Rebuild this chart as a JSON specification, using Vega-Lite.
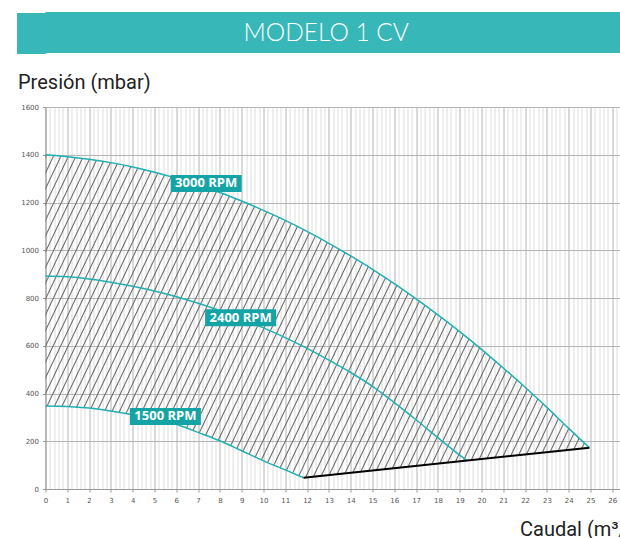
{
  "$schema": "https://vega.github.io/schema/vega-lite/v6.json",
  "padding": {"left": -4.5, "top": 12, "right": 0, "bottom": 0},
  "background": "white",
  "spacing": 18,
  "config": {"view": {"stroke": null}, "font": "Roboto"},
  "datasets": {
    "titlebar": [{"t": "MODELO 1 CV"}],
    "area": [
      {"q": 0, "top": 1400, "bottom": 348},
      {"q": 1, "top": 1392, "bottom": 346},
      {"q": 2, "top": 1381, "bottom": 339},
      {"q": 3, "top": 1367, "bottom": 327},
      {"q": 4, "top": 1349, "bottom": 311},
      {"q": 5, "top": 1327, "bottom": 293},
      {"q": 6, "top": 1302, "bottom": 271},
      {"q": 7, "top": 1274, "bottom": 237},
      {"q": 8, "top": 1242, "bottom": 202},
      {"q": 9, "top": 1206, "bottom": 160},
      {"q": 10, "top": 1167, "bottom": 118},
      {"q": 11, "top": 1125, "bottom": 80},
      {"q": 11.84, "top": 1086, "bottom": 47},
      {"q": 12, "top": 1079, "bottom": 48.5},
      {"q": 13, "top": 1029, "bottom": 58},
      {"q": 14, "top": 976, "bottom": 68},
      {"q": 15, "top": 920, "bottom": 77},
      {"q": 16, "top": 860, "bottom": 87},
      {"q": 17, "top": 796, "bottom": 97},
      {"q": 18, "top": 729, "bottom": 106},
      {"q": 19, "top": 659, "bottom": 116},
      {"q": 20, "top": 585, "bottom": 125},
      {"q": 21, "top": 507, "bottom": 135},
      {"q": 22, "top": 426, "bottom": 145},
      {"q": 23, "top": 342, "bottom": 154},
      {"q": 24, "top": 254, "bottom": 164},
      {"q": 24.95, "top": 173, "bottom": 173}
    ],
    "curves": [
      {"rpm": "3000", "q": 0, "p": 1400}, {"rpm": "3000", "q": 1, "p": 1392}, {"rpm": "3000", "q": 2, "p": 1381},
      {"rpm": "3000", "q": 3, "p": 1367}, {"rpm": "3000", "q": 4, "p": 1349}, {"rpm": "3000", "q": 5, "p": 1327},
      {"rpm": "3000", "q": 6, "p": 1302}, {"rpm": "3000", "q": 7, "p": 1274}, {"rpm": "3000", "q": 8, "p": 1242},
      {"rpm": "3000", "q": 9, "p": 1206}, {"rpm": "3000", "q": 10, "p": 1167}, {"rpm": "3000", "q": 11, "p": 1125},
      {"rpm": "3000", "q": 12, "p": 1079}, {"rpm": "3000", "q": 13, "p": 1029}, {"rpm": "3000", "q": 14, "p": 976},
      {"rpm": "3000", "q": 15, "p": 920}, {"rpm": "3000", "q": 16, "p": 860}, {"rpm": "3000", "q": 17, "p": 796},
      {"rpm": "3000", "q": 18, "p": 729}, {"rpm": "3000", "q": 19, "p": 659}, {"rpm": "3000", "q": 20, "p": 585},
      {"rpm": "3000", "q": 21, "p": 507}, {"rpm": "3000", "q": 22, "p": 426}, {"rpm": "3000", "q": 23, "p": 342},
      {"rpm": "3000", "q": 24, "p": 254}, {"rpm": "3000", "q": 24.95, "p": 173},
      {"rpm": "2400", "q": 0, "p": 892}, {"rpm": "2400", "q": 1, "p": 889}, {"rpm": "2400", "q": 2, "p": 880},
      {"rpm": "2400", "q": 3, "p": 866}, {"rpm": "2400", "q": 4, "p": 849}, {"rpm": "2400", "q": 5, "p": 829},
      {"rpm": "2400", "q": 6, "p": 805}, {"rpm": "2400", "q": 7, "p": 778}, {"rpm": "2400", "q": 8, "p": 747},
      {"rpm": "2400", "q": 9, "p": 713}, {"rpm": "2400", "q": 10, "p": 675}, {"rpm": "2400", "q": 11, "p": 634},
      {"rpm": "2400", "q": 12, "p": 589}, {"rpm": "2400", "q": 13, "p": 540}, {"rpm": "2400", "q": 14, "p": 488},
      {"rpm": "2400", "q": 15, "p": 430}, {"rpm": "2400", "q": 16, "p": 362}, {"rpm": "2400", "q": 17, "p": 290},
      {"rpm": "2400", "q": 18, "p": 215}, {"rpm": "2400", "q": 19, "p": 142}, {"rpm": "2400", "q": 19.34, "p": 119},
      {"rpm": "1500", "q": 0, "p": 348}, {"rpm": "1500", "q": 1, "p": 346}, {"rpm": "1500", "q": 2, "p": 339},
      {"rpm": "1500", "q": 3, "p": 327}, {"rpm": "1500", "q": 4, "p": 311}, {"rpm": "1500", "q": 5, "p": 293},
      {"rpm": "1500", "q": 6, "p": 271}, {"rpm": "1500", "q": 7, "p": 237}, {"rpm": "1500", "q": 8, "p": 202},
      {"rpm": "1500", "q": 9, "p": 160}, {"rpm": "1500", "q": 10, "p": 118}, {"rpm": "1500", "q": 11, "p": 80},
      {"rpm": "1500", "q": 11.84, "p": 47}
    ],
    "edge": [{"q": 11.84, "p": 47}, {"q": 24.95, "p": 173}],
    "labels": [
      {"label": "3000 RPM", "q": 7.37, "p": 1280},
      {"label": "2400 RPM", "q": 8.95, "p": 717},
      {"label": "1500 RPM", "q": 5.5, "p": 304}
    ]
  },
  "vconcat": [
    {
      "width": 575.5,
      "height": 41,
      "view": {"fill": "#37b7b8", "stroke": null},
      "data": {"name": "titlebar"},
      "mark": {"type": "text", "font": "Lato", "fontWeight": 300, "fontSize": 24.5, "color": "white", "align": "center", "baseline": "middle", "dx": -7, "dy": 1},
      "encoding": {
        "text": {"field": "t", "type": "nominal"},
        "y": {
          "field": "t", "type": "nominal",
          "axis": {"title": null, "labels": false, "domain": false, "grid": false, "ticks": true, "tickSize": 29, "tickWidth": 41, "tickColor": "#37b7b8", "tickCap": "butt", "tickOpacity": 1}
        }
      }
    },
    {
      "width": 575.5,
      "height": 382,
      "layer": [
        {
          "data": {"name": "area"},
          "mark": {
            "type": "area",
            "interpolate": "linear",
            "fill": {
              "gradient": "linear", "x1": 0, "y1": 0, "x2": 1.2767, "y2": 0.3607,
              "stops": [
                {"offset":0,"color":"rgba(102,102,102,0)"},{"offset":0.0015,"color":"#666666"},{"offset":0.003,"color":"rgba(102,102,102,0)"},
                {"offset":0.01,"color":"rgba(102,102,102,0)"},{"offset":0.0115,"color":"#666666"},{"offset":0.013,"color":"rgba(102,102,102,0)"},
                {"offset":0.02,"color":"rgba(102,102,102,0)"},{"offset":0.0215,"color":"#666666"},{"offset":0.023,"color":"rgba(102,102,102,0)"},
                {"offset":0.03,"color":"rgba(102,102,102,0)"},{"offset":0.0315,"color":"#666666"},{"offset":0.033,"color":"rgba(102,102,102,0)"},
                {"offset":0.04,"color":"rgba(102,102,102,0)"},{"offset":0.0415,"color":"#666666"},{"offset":0.043,"color":"rgba(102,102,102,0)"},
                {"offset":0.05,"color":"rgba(102,102,102,0)"},{"offset":0.0515,"color":"#666666"},{"offset":0.053,"color":"rgba(102,102,102,0)"},
                {"offset":0.06,"color":"rgba(102,102,102,0)"},{"offset":0.0615,"color":"#666666"},{"offset":0.063,"color":"rgba(102,102,102,0)"},
                {"offset":0.07,"color":"rgba(102,102,102,0)"},{"offset":0.0715,"color":"#666666"},{"offset":0.073,"color":"rgba(102,102,102,0)"},
                {"offset":0.08,"color":"rgba(102,102,102,0)"},{"offset":0.0815,"color":"#666666"},{"offset":0.083,"color":"rgba(102,102,102,0)"},
                {"offset":0.09,"color":"rgba(102,102,102,0)"},{"offset":0.0915,"color":"#666666"},{"offset":0.093,"color":"rgba(102,102,102,0)"},
                {"offset":0.10,"color":"rgba(102,102,102,0)"},{"offset":0.1015,"color":"#666666"},{"offset":0.103,"color":"rgba(102,102,102,0)"},
                {"offset":0.11,"color":"rgba(102,102,102,0)"},{"offset":0.1115,"color":"#666666"},{"offset":0.113,"color":"rgba(102,102,102,0)"},
                {"offset":0.12,"color":"rgba(102,102,102,0)"},{"offset":0.1215,"color":"#666666"},{"offset":0.123,"color":"rgba(102,102,102,0)"},
                {"offset":0.13,"color":"rgba(102,102,102,0)"},{"offset":0.1315,"color":"#666666"},{"offset":0.133,"color":"rgba(102,102,102,0)"},
                {"offset":0.14,"color":"rgba(102,102,102,0)"},{"offset":0.1415,"color":"#666666"},{"offset":0.143,"color":"rgba(102,102,102,0)"},
                {"offset":0.15,"color":"rgba(102,102,102,0)"},{"offset":0.1515,"color":"#666666"},{"offset":0.153,"color":"rgba(102,102,102,0)"},
                {"offset":0.16,"color":"rgba(102,102,102,0)"},{"offset":0.1615,"color":"#666666"},{"offset":0.163,"color":"rgba(102,102,102,0)"},
                {"offset":0.17,"color":"rgba(102,102,102,0)"},{"offset":0.1715,"color":"#666666"},{"offset":0.173,"color":"rgba(102,102,102,0)"},
                {"offset":0.18,"color":"rgba(102,102,102,0)"},{"offset":0.1815,"color":"#666666"},{"offset":0.183,"color":"rgba(102,102,102,0)"},
                {"offset":0.19,"color":"rgba(102,102,102,0)"},{"offset":0.1915,"color":"#666666"},{"offset":0.193,"color":"rgba(102,102,102,0)"},
                {"offset":0.20,"color":"rgba(102,102,102,0)"},{"offset":0.2015,"color":"#666666"},{"offset":0.203,"color":"rgba(102,102,102,0)"},
                {"offset":0.21,"color":"rgba(102,102,102,0)"},{"offset":0.2115,"color":"#666666"},{"offset":0.213,"color":"rgba(102,102,102,0)"},
                {"offset":0.22,"color":"rgba(102,102,102,0)"},{"offset":0.2215,"color":"#666666"},{"offset":0.223,"color":"rgba(102,102,102,0)"},
                {"offset":0.23,"color":"rgba(102,102,102,0)"},{"offset":0.2315,"color":"#666666"},{"offset":0.233,"color":"rgba(102,102,102,0)"},
                {"offset":0.24,"color":"rgba(102,102,102,0)"},{"offset":0.2415,"color":"#666666"},{"offset":0.243,"color":"rgba(102,102,102,0)"},
                {"offset":0.25,"color":"rgba(102,102,102,0)"},{"offset":0.2515,"color":"#666666"},{"offset":0.253,"color":"rgba(102,102,102,0)"},
                {"offset":0.26,"color":"rgba(102,102,102,0)"},{"offset":0.2615,"color":"#666666"},{"offset":0.263,"color":"rgba(102,102,102,0)"},
                {"offset":0.27,"color":"rgba(102,102,102,0)"},{"offset":0.2715,"color":"#666666"},{"offset":0.273,"color":"rgba(102,102,102,0)"},
                {"offset":0.28,"color":"rgba(102,102,102,0)"},{"offset":0.2815,"color":"#666666"},{"offset":0.283,"color":"rgba(102,102,102,0)"},
                {"offset":0.29,"color":"rgba(102,102,102,0)"},{"offset":0.2915,"color":"#666666"},{"offset":0.293,"color":"rgba(102,102,102,0)"},
                {"offset":0.30,"color":"rgba(102,102,102,0)"},{"offset":0.3015,"color":"#666666"},{"offset":0.303,"color":"rgba(102,102,102,0)"},
                {"offset":0.31,"color":"rgba(102,102,102,0)"},{"offset":0.3115,"color":"#666666"},{"offset":0.313,"color":"rgba(102,102,102,0)"},
                {"offset":0.32,"color":"rgba(102,102,102,0)"},{"offset":0.3215,"color":"#666666"},{"offset":0.323,"color":"rgba(102,102,102,0)"},
                {"offset":0.33,"color":"rgba(102,102,102,0)"},{"offset":0.3315,"color":"#666666"},{"offset":0.333,"color":"rgba(102,102,102,0)"},
                {"offset":0.34,"color":"rgba(102,102,102,0)"},{"offset":0.3415,"color":"#666666"},{"offset":0.343,"color":"rgba(102,102,102,0)"},
                {"offset":0.35,"color":"rgba(102,102,102,0)"},{"offset":0.3515,"color":"#666666"},{"offset":0.353,"color":"rgba(102,102,102,0)"},
                {"offset":0.36,"color":"rgba(102,102,102,0)"},{"offset":0.3615,"color":"#666666"},{"offset":0.363,"color":"rgba(102,102,102,0)"},
                {"offset":0.37,"color":"rgba(102,102,102,0)"},{"offset":0.3715,"color":"#666666"},{"offset":0.373,"color":"rgba(102,102,102,0)"},
                {"offset":0.38,"color":"rgba(102,102,102,0)"},{"offset":0.3815,"color":"#666666"},{"offset":0.383,"color":"rgba(102,102,102,0)"},
                {"offset":0.39,"color":"rgba(102,102,102,0)"},{"offset":0.3915,"color":"#666666"},{"offset":0.393,"color":"rgba(102,102,102,0)"},
                {"offset":0.40,"color":"rgba(102,102,102,0)"},{"offset":0.4015,"color":"#666666"},{"offset":0.403,"color":"rgba(102,102,102,0)"},
                {"offset":0.41,"color":"rgba(102,102,102,0)"},{"offset":0.4115,"color":"#666666"},{"offset":0.413,"color":"rgba(102,102,102,0)"},
                {"offset":0.42,"color":"rgba(102,102,102,0)"},{"offset":0.4215,"color":"#666666"},{"offset":0.423,"color":"rgba(102,102,102,0)"},
                {"offset":0.43,"color":"rgba(102,102,102,0)"},{"offset":0.4315,"color":"#666666"},{"offset":0.433,"color":"rgba(102,102,102,0)"},
                {"offset":0.44,"color":"rgba(102,102,102,0)"},{"offset":0.4415,"color":"#666666"},{"offset":0.443,"color":"rgba(102,102,102,0)"},
                {"offset":0.45,"color":"rgba(102,102,102,0)"},{"offset":0.4515,"color":"#666666"},{"offset":0.453,"color":"rgba(102,102,102,0)"},
                {"offset":0.46,"color":"rgba(102,102,102,0)"},{"offset":0.4615,"color":"#666666"},{"offset":0.463,"color":"rgba(102,102,102,0)"},
                {"offset":0.47,"color":"rgba(102,102,102,0)"},{"offset":0.4715,"color":"#666666"},{"offset":0.473,"color":"rgba(102,102,102,0)"},
                {"offset":0.48,"color":"rgba(102,102,102,0)"},{"offset":0.4815,"color":"#666666"},{"offset":0.483,"color":"rgba(102,102,102,0)"},
                {"offset":0.49,"color":"rgba(102,102,102,0)"},{"offset":0.4915,"color":"#666666"},{"offset":0.493,"color":"rgba(102,102,102,0)"},
                {"offset":0.50,"color":"rgba(102,102,102,0)"},{"offset":0.5015,"color":"#666666"},{"offset":0.503,"color":"rgba(102,102,102,0)"},
                {"offset":0.51,"color":"rgba(102,102,102,0)"},{"offset":0.5115,"color":"#666666"},{"offset":0.513,"color":"rgba(102,102,102,0)"},
                {"offset":0.52,"color":"rgba(102,102,102,0)"},{"offset":0.5215,"color":"#666666"},{"offset":0.523,"color":"rgba(102,102,102,0)"},
                {"offset":0.53,"color":"rgba(102,102,102,0)"},{"offset":0.5315,"color":"#666666"},{"offset":0.533,"color":"rgba(102,102,102,0)"},
                {"offset":0.54,"color":"rgba(102,102,102,0)"},{"offset":0.5415,"color":"#666666"},{"offset":0.543,"color":"rgba(102,102,102,0)"},
                {"offset":0.55,"color":"rgba(102,102,102,0)"},{"offset":0.5515,"color":"#666666"},{"offset":0.553,"color":"rgba(102,102,102,0)"},
                {"offset":0.56,"color":"rgba(102,102,102,0)"},{"offset":0.5615,"color":"#666666"},{"offset":0.563,"color":"rgba(102,102,102,0)"},
                {"offset":0.57,"color":"rgba(102,102,102,0)"},{"offset":0.5715,"color":"#666666"},{"offset":0.573,"color":"rgba(102,102,102,0)"},
                {"offset":0.58,"color":"rgba(102,102,102,0)"},{"offset":0.5815,"color":"#666666"},{"offset":0.583,"color":"rgba(102,102,102,0)"},
                {"offset":0.59,"color":"rgba(102,102,102,0)"},{"offset":0.5915,"color":"#666666"},{"offset":0.593,"color":"rgba(102,102,102,0)"},
                {"offset":0.60,"color":"rgba(102,102,102,0)"},{"offset":0.6015,"color":"#666666"},{"offset":0.603,"color":"rgba(102,102,102,0)"},
                {"offset":0.61,"color":"rgba(102,102,102,0)"},{"offset":0.6115,"color":"#666666"},{"offset":0.613,"color":"rgba(102,102,102,0)"},
                {"offset":0.62,"color":"rgba(102,102,102,0)"},{"offset":0.6215,"color":"#666666"},{"offset":0.623,"color":"rgba(102,102,102,0)"},
                {"offset":0.63,"color":"rgba(102,102,102,0)"},{"offset":0.6315,"color":"#666666"},{"offset":0.633,"color":"rgba(102,102,102,0)"},
                {"offset":0.64,"color":"rgba(102,102,102,0)"},{"offset":0.6415,"color":"#666666"},{"offset":0.643,"color":"rgba(102,102,102,0)"},
                {"offset":0.65,"color":"rgba(102,102,102,0)"},{"offset":0.6515,"color":"#666666"},{"offset":0.653,"color":"rgba(102,102,102,0)"},
                {"offset":0.66,"color":"rgba(102,102,102,0)"},{"offset":0.6615,"color":"#666666"},{"offset":0.663,"color":"rgba(102,102,102,0)"},
                {"offset":0.67,"color":"rgba(102,102,102,0)"},{"offset":0.6715,"color":"#666666"},{"offset":0.673,"color":"rgba(102,102,102,0)"},
                {"offset":0.68,"color":"rgba(102,102,102,0)"},{"offset":0.6815,"color":"#666666"},{"offset":0.683,"color":"rgba(102,102,102,0)"},
                {"offset":0.69,"color":"rgba(102,102,102,0)"},{"offset":0.6915,"color":"#666666"},{"offset":0.693,"color":"rgba(102,102,102,0)"},
                {"offset":0.70,"color":"rgba(102,102,102,0)"},{"offset":0.7015,"color":"#666666"},{"offset":0.703,"color":"rgba(102,102,102,0)"},
                {"offset":0.71,"color":"rgba(102,102,102,0)"},{"offset":0.7115,"color":"#666666"},{"offset":0.713,"color":"rgba(102,102,102,0)"},
                {"offset":0.72,"color":"rgba(102,102,102,0)"},{"offset":0.7215,"color":"#666666"},{"offset":0.723,"color":"rgba(102,102,102,0)"},
                {"offset":0.73,"color":"rgba(102,102,102,0)"},{"offset":0.7315,"color":"#666666"},{"offset":0.733,"color":"rgba(102,102,102,0)"},
                {"offset":0.74,"color":"rgba(102,102,102,0)"},{"offset":0.7415,"color":"#666666"},{"offset":0.743,"color":"rgba(102,102,102,0)"},
                {"offset":0.75,"color":"rgba(102,102,102,0)"},{"offset":0.7515,"color":"#666666"},{"offset":0.753,"color":"rgba(102,102,102,0)"},
                {"offset":0.76,"color":"rgba(102,102,102,0)"},{"offset":0.7615,"color":"#666666"},{"offset":0.763,"color":"rgba(102,102,102,0)"},
                {"offset":0.77,"color":"rgba(102,102,102,0)"},{"offset":0.7715,"color":"#666666"},{"offset":0.773,"color":"rgba(102,102,102,0)"},
                {"offset":0.78,"color":"rgba(102,102,102,0)"},{"offset":0.7815,"color":"#666666"},{"offset":0.783,"color":"rgba(102,102,102,0)"},
                {"offset":0.79,"color":"rgba(102,102,102,0)"},{"offset":0.7915,"color":"#666666"},{"offset":0.793,"color":"rgba(102,102,102,0)"},
                {"offset":0.80,"color":"rgba(102,102,102,0)"},{"offset":0.8015,"color":"#666666"},{"offset":0.803,"color":"rgba(102,102,102,0)"},
                {"offset":0.81,"color":"rgba(102,102,102,0)"},{"offset":0.8115,"color":"#666666"},{"offset":0.813,"color":"rgba(102,102,102,0)"},
                {"offset":0.82,"color":"rgba(102,102,102,0)"},{"offset":0.8215,"color":"#666666"},{"offset":0.823,"color":"rgba(102,102,102,0)"},
                {"offset":0.83,"color":"rgba(102,102,102,0)"},{"offset":0.8315,"color":"#666666"},{"offset":0.833,"color":"rgba(102,102,102,0)"},
                {"offset":0.84,"color":"rgba(102,102,102,0)"},{"offset":0.8415,"color":"#666666"},{"offset":0.843,"color":"rgba(102,102,102,0)"},
                {"offset":0.85,"color":"rgba(102,102,102,0)"},{"offset":0.8515,"color":"#666666"},{"offset":0.853,"color":"rgba(102,102,102,0)"},
                {"offset":0.86,"color":"rgba(102,102,102,0)"},{"offset":0.8615,"color":"#666666"},{"offset":0.863,"color":"rgba(102,102,102,0)"},
                {"offset":0.87,"color":"rgba(102,102,102,0)"},{"offset":0.8715,"color":"#666666"},{"offset":0.873,"color":"rgba(102,102,102,0)"},
                {"offset":0.88,"color":"rgba(102,102,102,0)"},{"offset":0.8815,"color":"#666666"},{"offset":0.883,"color":"rgba(102,102,102,0)"},
                {"offset":0.89,"color":"rgba(102,102,102,0)"},{"offset":0.8915,"color":"#666666"},{"offset":0.893,"color":"rgba(102,102,102,0)"},
                {"offset":0.90,"color":"rgba(102,102,102,0)"},{"offset":0.9015,"color":"#666666"},{"offset":0.903,"color":"rgba(102,102,102,0)"},
                {"offset":0.91,"color":"rgba(102,102,102,0)"},{"offset":0.9115,"color":"#666666"},{"offset":0.913,"color":"rgba(102,102,102,0)"},
                {"offset":0.92,"color":"rgba(102,102,102,0)"},{"offset":0.9215,"color":"#666666"},{"offset":0.923,"color":"rgba(102,102,102,0)"},
                {"offset":0.93,"color":"rgba(102,102,102,0)"},{"offset":0.9315,"color":"#666666"},{"offset":0.933,"color":"rgba(102,102,102,0)"}
              ]
            }
          },
          "encoding": {
            "x": {
              "field": "q", "type": "quantitative",
              "scale": {"domain": [0, 26.4], "nice": false, "zero": false},
              "axis": {
                "title": "Caudal (m³/h)", "titleFont": "Roboto", "titleFontSize": 20, "titleFontWeight": "normal", "titleColor": "#222222",
                "titleAlign": "left", "titleBaseline": "alphabetic", "titleX": 474, "titleY": 46,
                "tickCount": 132,
                "labelExpr": "datum.value % 1 === 0 ? format(datum.value, 'd') : ''",
                "labelOverlap": false, "labelFlush": false, "labelFont": "DejaVu Sans", "labelFontSize": 7, "labelColor": "#555555", "labelPadding": 4,
                "tickSize": 3, "tickColor": "#999999",
                "tickOpacity": {"condition": {"test": "datum.value % 1 === 0", "value": 1}, "value": 0},
                "gridColor": {"condition": {"test": "datum.value % 1 === 0", "value": "#b4b4b4"}, "value": "#dedede"},
                "gridWidth": 1, "domainColor": "#999999"
              }
            },
            "y": {
              "field": "top", "type": "quantitative",
              "scale": {"domain": [0, 1600], "nice": false},
              "axis": {
                "title": "Presión (mbar)", "titleFont": "Roboto", "titleFontSize": 20, "titleFontWeight": "normal", "titleColor": "#222222",
                "titleAngle": 0, "titleAlign": "left", "titleBaseline": "alphabetic", "titleX": -28, "titleY": -19,
                "values": [0, 200, 400, 600, 800, 1000, 1200, 1400, 1600],
                "format": "d",
                "labelFlush": false, "labelFont": "DejaVu Sans", "labelFontSize": 7, "labelColor": "#555555", "labelPadding": 4,
                "tickSize": 3, "tickColor": "#999999", "gridColor": "#b4b4b4", "gridWidth": 1, "domainColor": "#999999"
              }
            },
            "y2": {"field": "bottom"}
          }
        },
        {
          "data": {"name": "curves"},
          "mark": {"type": "line", "interpolate": "monotone", "color": "#20b0b2", "strokeWidth": 1.5},
          "encoding": {
            "x": {"field": "q", "type": "quantitative"},
            "y": {"field": "p", "type": "quantitative"},
            "detail": {"field": "rpm", "type": "nominal"}
          }
        },
        {
          "data": {"name": "edge"},
          "mark": {"type": "line", "color": "#000000", "strokeWidth": 2},
          "encoding": {
            "x": {"field": "q", "type": "quantitative"},
            "y": {"field": "p", "type": "quantitative"}
          }
        },
        {
          "data": {"name": "labels"},
          "mark": {"type": "point", "shape": "M-1,-0.24L1,-0.24L1,0.24L-1,0.24Z", "size": 5041, "filled": true, "color": "#14a4a5", "opacity": 1, "strokeWidth": 0},
          "encoding": {
            "x": {"field": "q", "type": "quantitative"},
            "y": {"field": "p", "type": "quantitative"}
          }
        },
        {
          "data": {"name": "labels"},
          "mark": {"type": "text", "font": "Open Sans", "fontWeight": "bold", "fontSize": 13, "color": "white", "align": "center", "baseline": "middle"},
          "encoding": {
            "x": {"field": "q", "type": "quantitative"},
            "y": {"field": "p", "type": "quantitative"},
            "text": {"field": "label", "type": "nominal"}
          }
        }
      ]
    }
  ]
}
